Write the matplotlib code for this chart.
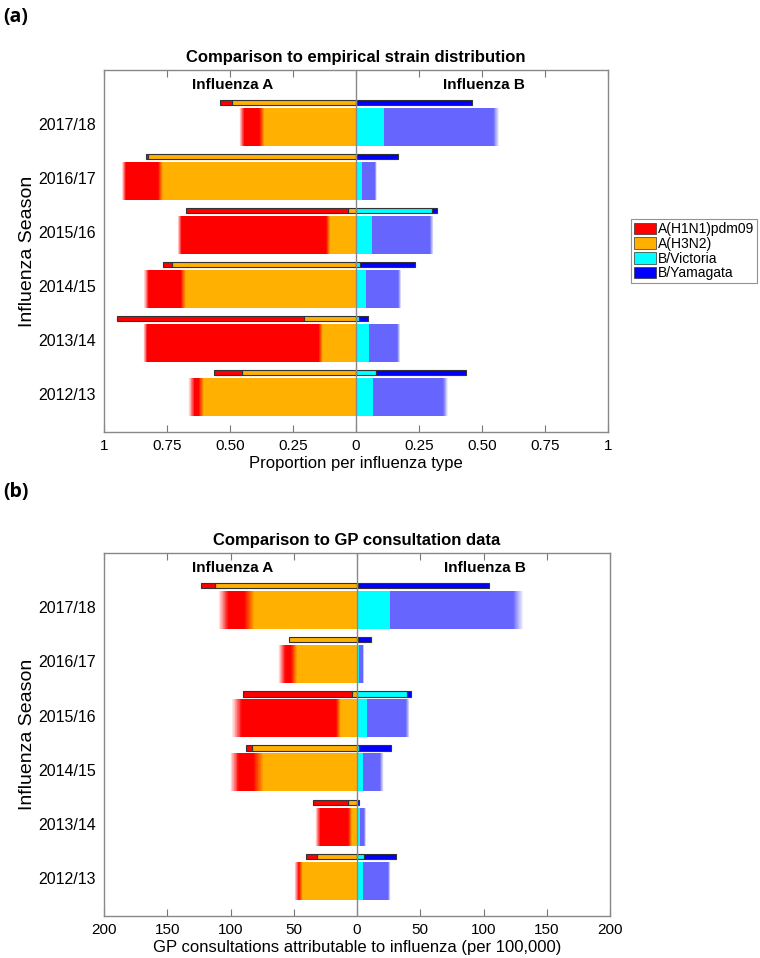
import numpy as np
import matplotlib
matplotlib.use("Agg")
import matplotlib.pyplot as plt
from matplotlib.patches import Patch

# ---------------- data ----------------
seasons = ['2012/13', '2013/14', '2014/15', '2015/16', '2016/17', '2017/18']

# Panel (a): proportion per influenza type
# empirical (thin bars)
a_emp_h3 = [0.451, 0.205, 0.728, 0.030, 0.824, 0.492]
a_emp_h1 = [0.111, 0.745, 0.039, 0.646, 0.009, 0.049]
a_emp_vic = [0.079, 0.012, 0.016, 0.304, 0.005, 0.003]
a_emp_yam = [0.359, 0.037, 0.218, 0.018, 0.164, 0.458]
# model (thick bars)
a_mod_h3 = [0.614, 0.140, 0.686, 0.110, 0.776, 0.373]
a_mod_h1 = [0.039, 0.696, 0.146, 0.590, 0.145, 0.080]
a_mod_vic = [0.069, 0.053, 0.040, 0.062, 0.026, 0.112]
a_mod_yam = [0.287, 0.117, 0.134, 0.239, 0.053, 0.445]
# spread of model samples at the outer edges / at the H1-H3 boundary
a_spread_A = [0.012, 0.008, 0.010, 0.008, 0.008, 0.010]
a_spread_bd = [0.010, 0.008, 0.010, 0.008, 0.010, 0.010]
a_spread_B = [0.010, 0.006, 0.006, 0.008, 0.004, 0.012]

# Panel (b): GP consultations attributable to influenza (per 100,000)
b_emp_h3 = [31.9, 7.4, 83.0, 3.7, 53.5, 112.3]
b_emp_h1 = [8.4, 27.6, 4.7, 86.2, 0.0, 11.0]
b_emp_vic = [5.5, 0.3, 1.9, 39.8, 0.5, 0.5]
b_emp_yam = [25.3, 1.5, 24.7, 2.9, 10.3, 103.8]
b_mod_h3 = [44.5, 5.5, 78.0, 14.8, 49.8, 85.1]
b_mod_h1 = [3.2, 25.6, 19.0, 80.3, 9.7, 20.6]
b_mod_vic = [4.5, 2.4, 4.5, 8.1, 1.8, 26.1]
b_mod_yam = [21.0, 3.9, 15.0, 32.0, 3.2, 101.4]
b_spread_A = [2.0, 2.0, 3.5, 4.0, 3.0, 4.0]
b_spread_bd = [1.5, 1.5, 4.0, 2.0, 2.5, 4.0]
b_spread_B = [1.0, 0.8, 1.5, 1.5, 0.5, 4.0]

legend_labels = ['A(H1N1)pdm09', 'A(H3N2)', 'B/Victoria', 'B/Yamagata']

# ---------------- style ----------------
C_H1 = '#FF0000'
C_H3 = '#FFB000'
C_VIC = '#00FFFF'
C_YAM = '#0000FF'
C_YAM_MOD = '#6666FF'
EDGE = '#333333'

plt.rcParams['font.family'] = ['Liberation Sans', 'DejaVu Sans']

fig = plt.figure(figsize=(7.6, 9.58), dpi=100)
ax_a = fig.add_axes([0.1368, 0.549, 0.663, 0.378])
ax_b = fig.add_axes([0.1368, 0.0438, 0.666, 0.379])


def grad(ax, y, h, x0, x1, color, rising=False, n=14):
    """Gradient patch between x0 and x1 (alpha 1 -> 0 unless rising)."""
    edges = np.linspace(x0, x1, n + 1)
    for i in range(n):
        a = (i + 0.5) / n
        alpha = a if rising else 1 - a
        ax.barh(y, edges[i + 1] - edges[i], left=edges[i], height=h,
                color=color, alpha=alpha, lw=0, zorder=2)


def draw_panel(ax, emp_h3, emp_h1, emp_vic, emp_yam,
               mod_h3, mod_h1, mod_vic, mod_yam, sA, sbd, sB):
    ypos = np.arange(1, len(seasons) + 1)
    th_c, th_h = 0.4, 0.1      # thin bar centre offset / height
    mo_c, mo_h = -0.05, 0.7    # model bar centre offset / height
    for i, y in enumerate(ypos):
        # ---- model bars (thick) ----
        yc = y + mo_c
        h3, h1 = mod_h3[i], mod_h1[i]
        totA = h3 + h1
        ax.barh(yc, -(h3 + sbd[i]), left=0, height=mo_h, color=C_H3, lw=0, zorder=1)
        r0 = h3 + sbd[i]
        r1 = totA - sA[i]
        if r1 > r0:
            ax.barh(yc, -(r1 - r0), left=-r0, height=mo_h, color=C_H1, lw=0, zorder=1)
        grad(ax, yc, mo_h, -(h3 - sbd[i]), -(h3 + sbd[i]), C_H1, rising=True)
        grad(ax, yc, mo_h, -(totA - sA[i]), -(totA + sA[i]), C_H1)
        vic, yam = mod_vic[i], mod_yam[i]
        totB = vic + yam
        ax.barh(yc, vic, left=0, height=mo_h, color=C_VIC, lw=0, zorder=1)
        b1 = totB - sB[i]
        if b1 > vic:
            ax.barh(yc, b1 - vic, left=vic, height=mo_h, color=C_YAM_MOD, lw=0, zorder=1)
        grad(ax, yc, mo_h, b1, totB + sB[i], C_YAM_MOD)

        # ---- empirical bars (thin) ----
        yt = y + th_c
        ax.barh(yt, -emp_h3[i], left=0, height=th_h, color=C_H3,
                edgecolor=EDGE, lw=0.8, zorder=3)
        if emp_h1[i] > 0:
            ax.barh(yt, -emp_h1[i], left=-emp_h3[i], height=th_h, color=C_H1,
                    edgecolor=EDGE, lw=0.8, zorder=3)
        ax.barh(yt, emp_vic[i], left=0, height=th_h, color=C_VIC,
                edgecolor=EDGE, lw=0.8, zorder=3)
        ax.barh(yt, emp_yam[i], left=emp_vic[i], height=th_h, color=C_YAM,
                edgecolor=EDGE, lw=0.8, zorder=3)

    ax.axvline(0, color='#888888', lw=1.0, zorder=4)
    ax.set_ylim(0.3, 7.0)
    ax.set_yticks(ypos)
    ax.set_yticklabels(seasons, fontsize=11.5)
    ax.tick_params(axis='y', length=0, pad=6)
    ax.tick_params(axis='x', direction='in', top=True, length=5, color='#777777',
                   labelsize=11, pad=5)
    for s in ax.spines.values():
        s.set_color('#888888')
        s.set_linewidth(1.0)
    ax.set_ylabel('Influenza Season', fontsize=14, labelpad=1)


# ---- panel (a) ----
draw_panel(ax_a, a_emp_h3, a_emp_h1, a_emp_vic, a_emp_yam,
           a_mod_h3, a_mod_h1, a_mod_vic, a_mod_yam,
           a_spread_A, a_spread_bd, a_spread_B)
ax_a.set_xlim(-1, 1)
ticks_a = [-1, -0.75, -0.5, -0.25, 0, 0.25, 0.5, 0.75, 1]
ax_a.set_xticks(ticks_a)
ax_a.set_xticklabels(['1', '0.75', '0.50', '0.25', '0', '0.25', '0.50', '0.75', '1'],
                     fontsize=11)
ax_a.set_xlabel('Proportion per influenza type', fontsize=12, labelpad=2)
ax_a.set_title('Comparison to empirical strain distribution', fontsize=12,
               fontweight='bold', pad=6)
ax_a.text(-0.49, 6.72, 'Influenza A', ha='center', va='center', fontsize=11, fontweight='bold')
ax_a.text(0.51, 6.72, 'Influenza B', ha='center', va='center', fontsize=11, fontweight='bold')

# ---- panel (b) ----
draw_panel(ax_b, b_emp_h3, b_emp_h1, b_emp_vic, b_emp_yam,
           b_mod_h3, b_mod_h1, b_mod_vic, b_mod_yam,
           b_spread_A, b_spread_bd, b_spread_B)
ax_b.set_xlim(-200, 200)
ticks_b = [-200, -150, -100, -50, 0, 50, 100, 150, 200]
ax_b.set_xticks(ticks_b)
ax_b.set_xticklabels([str(abs(t)) for t in ticks_b], fontsize=11)
ax_b.set_xlabel('GP consultations attributable to influenza (per 100,000)', fontsize=12,
                labelpad=2)
ax_b.set_title('Comparison to GP consultation data', fontsize=12, fontweight='bold', pad=6)
ax_b.text(-98, 6.72, 'Influenza A', ha='center', va='center', fontsize=11, fontweight='bold')
ax_b.text(101, 6.72, 'Influenza B', ha='center', va='center', fontsize=11, fontweight='bold')

# ---- legend ----
handles = [Patch(facecolor=c, edgecolor='#333333', lw=0.5)
           for c in [C_H1, C_H3, C_VIC, C_YAM]]
leg = fig.legend(handles, legend_labels, loc='upper left', bbox_to_anchor=(0.830, 0.771),
                 fontsize=10, frameon=True, fancybox=False, edgecolor='#777777',
                 handlelength=1.6, handleheight=0.9, handletextpad=0.15,
                 labelspacing=0.05, borderpad=0.2, borderaxespad=0)
leg.get_frame().set_linewidth(0.8)

# ---- panel letters ----
fig.text(0.004, 0.982, '(a)', fontsize=14, fontweight='bold', family=['Open Sans', 'DejaVu Sans'],
         va='center', ha='left')
fig.text(0.004, 0.486, '(b)', fontsize=14, fontweight='bold', family=['Open Sans', 'DejaVu Sans'],
         va='center', ha='left')

fig.savefig('out.png', dpi=100)
